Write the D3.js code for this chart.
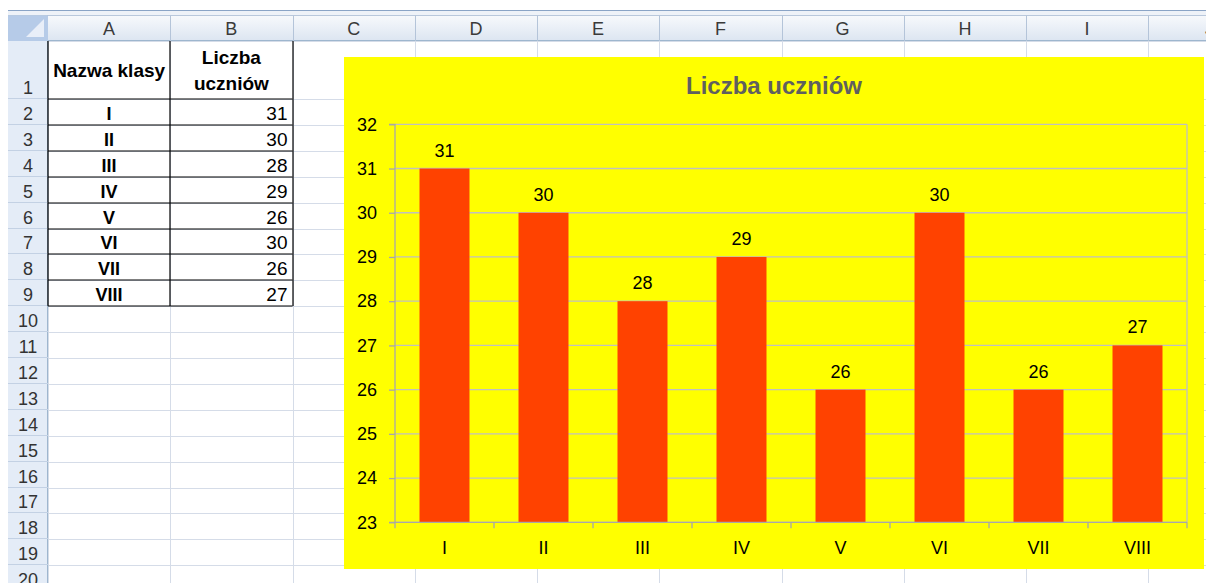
<!DOCTYPE html>
<html>
<head>
<meta charset="utf-8">
<script src="https://cdn.jsdelivr.net/npm/d3@7"></script>
<style>
  body { margin: 0; background: #fff; }
  text { font-family: Arial, "Liberation Sans", sans-serif; }
</style>
</head>
<body>
<div id="sheet"></div>
<script>
// Data
var classes = ['I', 'II', 'III', 'IV', 'V', 'VI', 'VII', 'VIII'];
var students = [31, 30, 28, 29, 26, 30, 26, 27];
var yTicks = [23, 24, 25, 26, 27, 28, 29, 30, 31, 32];
var colLetters = ['A', 'B', 'C', 'D', 'E', 'F', 'G', 'H', 'I', 'J'];
var chartTitle = 'Liczba uczniów';
var headA = 'Nazwa klasy';
var headB = ['Liczba', 'uczniów'];

var W = 1206, H = 583;
var svg = d3.select('#sheet').append('svg')
    .attr('width', W).attr('height', H);

// Spreadsheet geometry
var colW = 122.25, colStart = 48, hdrTop = 15.5, hdrBottom = 41;
var row2Top = 99, rowH = 25.9;
function colX(i) { return colStart + i * colW; }
function rowTop(r) { return r === 1 ? hdrBottom : row2Top + (r - 2) * rowH; }

var defs = svg.append('defs');
var grad = defs.append('linearGradient').attr('id', 'hdr').attr('x1', 0).attr('x2', 0).attr('y1', 0).attr('y2', 1);
grad.append('stop').attr('offset', '0%').attr('stop-color', '#f7f9fc');
grad.append('stop').attr('offset', '100%').attr('stop-color', '#dce5f1');

// top bar
svg.append('rect').attr('x', 8).attr('y', 10).attr('width', W).attr('height', 6).attr('fill', '#eef2f8');
svg.append('line').attr('x1', 8).attr('x2', W).attr('y1', 10.5).attr('y2', 10.5).attr('stroke', '#8aa4c6');

// cell gridlines
var grid = svg.append('g').attr('stroke', '#d5dce8').attr('stroke-width', 1);
for (var r = 1; r <= 21; r++) {
  grid.append('line').attr('x1', colStart).attr('x2', W)
    .attr('y1', Math.round(rowTop(r)) + 0.5).attr('y2', Math.round(rowTop(r)) + 0.5);
}
for (var c = 0; c < 11; c++) {
  grid.append('line').attr('x1', Math.round(colX(c)) + 0.5).attr('x2', Math.round(colX(c)) + 0.5)
    .attr('y1', hdrBottom).attr('y2', H);
}

// column headers
svg.append('rect').attr('x', colStart).attr('y', hdrTop).attr('width', W - colStart).attr('height', hdrBottom - hdrTop)
  .attr('fill', 'url(#hdr)');
svg.append('line').attr('x1', 8).attr('x2', W).attr('y1', hdrBottom - 0.5).attr('y2', hdrBottom - 0.5).attr('stroke', '#9eb6ce');
svg.append('line').attr('x1', 8).attr('x2', W).attr('y1', hdrTop).attr('y2', hdrTop).attr('stroke', '#b9c8dc');
colLetters.forEach(function (l, i) {
  svg.append('line').attr('x1', Math.round(colX(i + 1)) + 0.5).attr('x2', Math.round(colX(i + 1)) + 0.5)
    .attr('y1', hdrTop).attr('y2', hdrBottom).attr('stroke', '#b4c4d9');
  svg.append('text').attr('x', colX(i) + colW / 2).attr('y', 35).attr('text-anchor', 'middle')
    .attr('font-size', 18).attr('fill', '#3a3a3a').text(l);
});

// row headers
svg.append('rect').attr('x', 8).attr('y', hdrBottom).attr('width', colStart - 8).attr('height', H - hdrBottom).attr('fill', '#e4ecf7');
svg.append('line').attr('x1', colStart - 0.5).attr('x2', colStart - 0.5).attr('y1', hdrTop).attr('y2', H).attr('stroke', '#9eb6ce');
for (var r2 = 1; r2 <= 20; r2++) {
  var yb = r2 === 1 ? row2Top : rowTop(r2 + 1);
  svg.append('line').attr('x1', 8).attr('x2', colStart).attr('y1', Math.round(yb) - 0.5).attr('y2', Math.round(yb) - 0.5)
    .attr('stroke', '#c3d1e4');
  svg.append('text').attr('x', 28).attr('y', yb - 5).attr('text-anchor', 'middle')
    .attr('font-size', 18).attr('fill', '#333').text(r2);
}
// corner
svg.append('rect').attr('x', 8).attr('y', hdrTop).attr('width', colStart - 8).attr('height', hdrBottom - hdrTop).attr('fill', '#b6cbe8');
svg.append('path').attr('d', 'M44,19 L44,37 L26,37 Z').attr('fill', '#e8eef8');

// table
var table = svg.append('g');
table.append('text').attr('x', colX(0) + colW / 2).attr('y', 77).attr('text-anchor', 'middle')
  .attr('font-size', 19).attr('font-weight', 'bold').text(headA);
headB.forEach(function (t, i) {
  table.append('text').attr('x', colX(1) + colW / 2).attr('y', 64 + i * 26).attr('text-anchor', 'middle')
    .attr('font-size', 19).attr('font-weight', 'bold').text(t);
});
classes.forEach(function (c, i) {
  var yb = rowTop(i + 3);
  table.append('text').attr('x', colX(0) + colW / 2).attr('y', yb - 5).attr('text-anchor', 'middle')
    .attr('font-size', 18).attr('font-weight', 'bold').text(c);
  table.append('text').attr('x', colX(2) - 5).attr('y', yb - 5).attr('text-anchor', 'end')
    .attr('font-size', 19).text(students[i]);
});
var bx = table.append('g').attr('stroke', '#000').attr('stroke-width', 1.2);
for (var rr = 2; rr <= 10; rr++) {
  bx.append('line').attr('x1', colX(0)).attr('x2', colX(2)).attr('y1', Math.round(rowTop(rr))).attr('y2', Math.round(rowTop(rr)));
}
[0, 1, 2].forEach(function (c) {
  bx.append('line').attr('x1', Math.round(colX(c))).attr('x2', Math.round(colX(c))).attr('y1', hdrBottom).attr('y2', Math.round(rowTop(10)));
});

// Chart
var chart = { left: 344, top: 57, right: 1204, bottom: 569 };
var plot = { left: 395, top: 124.3, right: 1187, bottom: 522.3 };
var cg = svg.append('g');
cg.append('rect').attr('x', chart.left).attr('y', chart.top)
  .attr('width', chart.right - chart.left).attr('height', chart.bottom - chart.top).attr('fill', '#ffff00');

cg.append('text').attr('x', (chart.left + chart.right) / 2).attr('y', 94).attr('text-anchor', 'middle')
  .attr('font-size', 24).attr('font-weight', 'bold').attr('fill', '#5f5f5f').text(chartTitle);

var x = d3.scaleBand().domain(classes).range([plot.left, plot.right])
  .paddingInner(0.495).paddingOuter(0.2475);
var y = d3.scaleLinear().domain([23, 32]).range([plot.bottom, plot.top]);

// gridlines
cg.append('g').selectAll('line').data(yTicks).enter().append('line')
  .attr('x1', plot.left).attr('x2', plot.right)
  .attr('y1', d => y(d)).attr('y2', d => y(d))
  .attr('stroke', '#c0c0c0').attr('stroke-width', 1.3);
cg.append('line').attr('x1', plot.right).attr('x2', plot.right).attr('y1', plot.top).attr('y2', plot.bottom)
  .attr('stroke', '#c0c0c0').attr('stroke-width', 1.3);

// bars
cg.append('g').selectAll('rect').data(students).enter().append('rect')
  .attr('x', (d, i) => x(classes[i]))
  .attr('y', d => y(d))
  .attr('width', x.bandwidth())
  .attr('height', d => y(23) - y(d))
  .attr('fill', '#ff4200');

// data labels
cg.append('g').selectAll('text').data(students).enter().append('text')
  .attr('x', (d, i) => x(classes[i]) + x.bandwidth() / 2)
  .attr('y', d => y(d) - 12)
  .attr('text-anchor', 'middle').attr('font-size', 18).attr('fill', '#000')
  .text(d => d);

// y axis
var yAxis = d3.axisLeft(y).tickValues(yTicks).tickSize(6).tickPadding(12).tickFormat(d3.format('d'));
var yg = cg.append('g').attr('transform', `translate(${plot.left},0)`).call(yAxis);
yg.selectAll('path, line').attr('stroke', '#a8a8a8').attr('stroke-width', 1.3);
yg.select('.domain').attr('d', `M-6,${plot.top}H0V${plot.bottom}H-6`);
yg.selectAll('text').attr('font-size', 18).attr('fill', '#000').attr('font-family', 'Arial, "Liberation Sans", sans-serif');

// x axis
var xAxis = d3.axisBottom(x).tickSize(0).tickPadding(19);
var xg = cg.append('g').attr('transform', `translate(0,${plot.bottom})`).call(xAxis);
xg.select('.domain').attr('stroke', '#a8a8a8').attr('stroke-width', 1.3).attr('d', `M${plot.left},0H${plot.right}`);
xg.selectAll('text').attr('font-size', 18).attr('fill', '#000').attr('font-family', 'Arial, "Liberation Sans", sans-serif');
var step = x.step();
xg.append('g').selectAll('line').data(d3.range(classes.length + 1)).enter().append('line')
  .attr('x1', i => plot.left + i * step).attr('x2', i => plot.left + i * step)
  .attr('y1', 0).attr('y2', 6).attr('stroke', '#a8a8a8').attr('stroke-width', 1.3);
</script>
</body>
</html>
